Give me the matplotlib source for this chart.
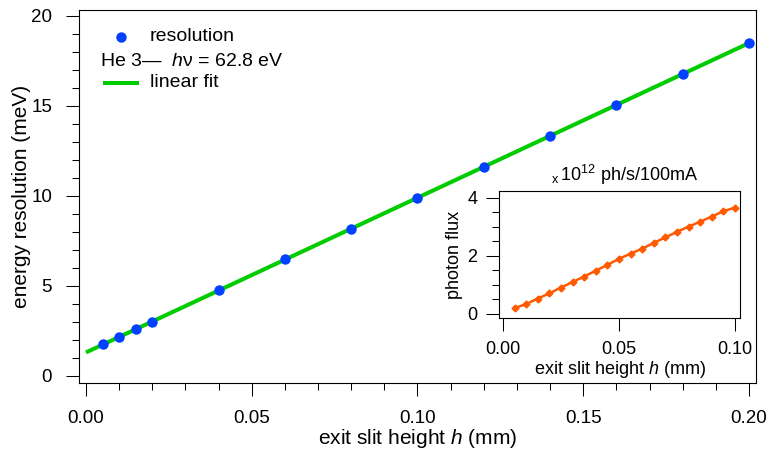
import numpy as np
import matplotlib
matplotlib.use('Agg')
import matplotlib.pyplot as plt
from matplotlib.ticker import MultipleLocator

plt.rcParams['font.family'] = ['Liberation Sans', 'DejaVu Sans']
plt.rcParams['mathtext.fontset'] = 'custom'
plt.rcParams['mathtext.rm'] = 'Liberation Sans'
plt.rcParams['mathtext.it'] = 'Liberation Sans:italic'

# resolution measurements (He 3, hv = 62.8 eV)
res_h = [0.005, 0.01, 0.015, 0.02, 0.04, 0.06, 0.08, 0.10, 0.12, 0.14, 0.16, 0.18, 0.20]
res_e = [1.75, 2.15, 2.6, 3.0, 4.78, 6.5, 8.17, 9.89, 11.6, 13.33, 15.06, 16.78, 18.5]

# photon flux (x 1e12 ph/s/100mA)
flux_h = [0.005, 0.01, 0.015, 0.02, 0.025, 0.03, 0.035, 0.04, 0.045, 0.05,
          0.055, 0.06, 0.065, 0.07, 0.075, 0.08, 0.085, 0.09, 0.095, 0.10]
flux = [0.2, 0.34, 0.53, 0.71, 0.91, 1.10, 1.29, 1.49, 1.69, 1.90,
        2.08, 2.25, 2.45, 2.64, 2.83, 3.01, 3.18, 3.36, 3.54, 3.67]

fit_range = [0.0, 0.20]

green = '#00CC00'
blue = '#0040FF'
orange = '#FF5A00'

slope, icpt = np.polyfit(res_h, res_e, 1)
fit_x = np.array(fit_range)
fit_y = slope * fit_x + icpt

fig = plt.figure(figsize=(7.71, 4.55), dpi=100)
ax = fig.add_axes([0.1025, 0.1582, 0.878, 0.8198])

ax.plot(fit_x, fit_y, color=green, lw=2.9, solid_capstyle='butt', zorder=2)
ax.plot(res_h, res_e, 'o', color=blue, ms=7.5, mec='none', zorder=3)

ax.set_xlim(-0.0021, 0.2021)
ax.set_ylim(-0.39, 20.33)
ax.xaxis.set_major_locator(MultipleLocator(0.05))
ax.xaxis.set_minor_locator(MultipleLocator(0.01))
ax.yaxis.set_major_locator(MultipleLocator(5))
ax.yaxis.set_minor_locator(MultipleLocator(1))
ax.xaxis.set_major_formatter(plt.FormatStrFormatter('%.2f'))
ax.tick_params(which='major', direction='out', length=9.4, width=0.75, labelsize=13.5)
ax.tick_params(which='minor', direction='out', length=4.7, width=0.75)
ax.tick_params(axis='y', which='major', pad=10)
ax.tick_params(axis='x', which='major', pad=10)
for s in ax.spines.values():
    s.set_linewidth(0.8)
ax.set_xlabel('exit slit height $h$ (mm)', fontsize=15, labelpad=0)
ax.set_ylabel('energy resolution (meV)', fontsize=15, labelpad=0)

# hand-drawn legend, Igor style
ax.plot([0.062], [0.928], 'o', color=blue, ms=7.5, mec='none', transform=ax.transAxes)
ax.text(0.105, 0.928, 'resolution', fontsize=14, va='center', transform=ax.transAxes)
ax.text(0.031, 0.861, 'He 3\u2014  $h$\u03bd = 62.8 eV', fontsize=14, va='center',
        transform=ax.transAxes)
ax.plot([0.0355, 0.0886], [0.804, 0.804], color=green, lw=2.9, solid_capstyle='butt',
        transform=ax.transAxes)
ax.text(0.105, 0.807, 'linear fit', fontsize=14, va='center', transform=ax.transAxes)

# inset: photon flux
ins = fig.add_axes([0.6472, 0.3011, 0.3126, 0.2791])
ins.set_facecolor('white')
ins.plot(flux_h, flux, '-D', color=orange, lw=1.8, ms=3.5, mec=orange)
ins.set_xlim(-0.0017, 0.1022)
ins.set_ylim(-0.14, 4.24)
ins.xaxis.set_major_locator(MultipleLocator(0.05))
ins.yaxis.set_major_locator(MultipleLocator(2))
ins.yaxis.set_minor_locator(MultipleLocator(0.5))
ins.xaxis.set_major_formatter(plt.FormatStrFormatter('%.2f'))
ins.tick_params(which='major', direction='out', length=9.4, width=0.75, labelsize=13)
ins.tick_params(which='minor', direction='out', length=4.7, width=0.75)
ins.tick_params(axis='y', which='major', pad=6)
ins.tick_params(axis='x', which='major', pad=7)
for s in ins.spines.values():
    s.set_linewidth(0.8)
ins.set_xlabel('exit slit height $h$ (mm)', fontsize=13, labelpad=1)
ins.set_ylabel('photon flux', fontsize=13, labelpad=3)
ins.text(0.52, 1.125, r'$\mathregular{_{x}\,10^{12}}$ ph/s/100mA', fontsize=13,
         ha='center', va='center', transform=ins.transAxes)

fig.savefig('out.png', dpi=100)
